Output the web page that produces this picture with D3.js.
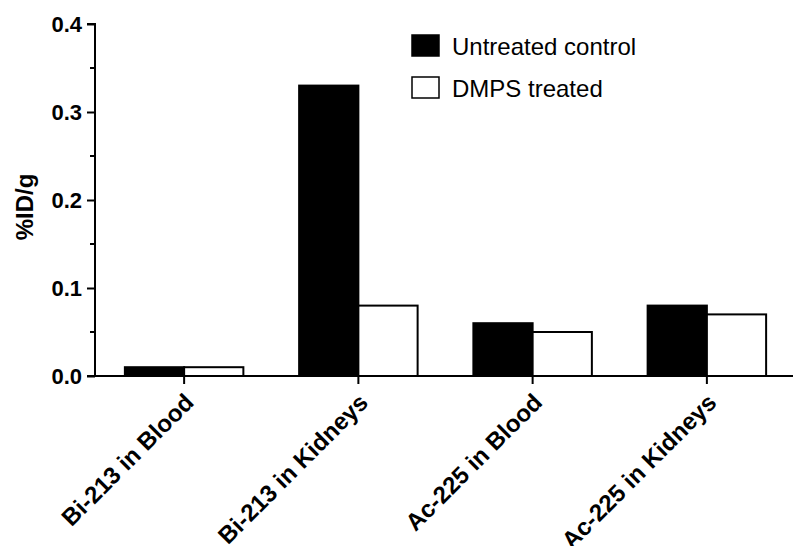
<!DOCTYPE html>
<html>
<head>
<meta charset="utf-8">
<script src="https://cdn.jsdelivr.net/npm/d3@7"></script>
<style>
  body { margin: 0; background: #fff; }
  svg { display: block; font-family: "Liberation Sans", Arial, sans-serif; }
</style>
</head>
<body>
<svg id="chart"></svg>
<script>
// data
var categories = ["Bi-213 in Blood", "Bi-213 in Kidneys", "Ac-225 in Blood", "Ac-225 in Kidneys"];
var seriesNames = ["Untreated control", "DMPS treated"];
var untreated = [0.01, 0.33, 0.06, 0.08];
var dmps = [0.01, 0.08, 0.05, 0.07];
var yTicks = [0.0, 0.1, 0.2, 0.3, 0.4];
var yMinorTicks = [0.05, 0.15, 0.25, 0.35];

var width = 793,
    height = 546;

var plotLeft = 95, plotRight = 793, plotTop = 24, plotBottom = 376;

var svg = d3.select("#chart")
    .attr("width", width)
    .attr("height", height);

var x0 = d3.scaleBand()
    .domain(categories)
    .range([plotLeft + 2, plotRight + 1])
    .paddingInner(0.32)
    .paddingOuter(0.16);

var x1 = d3.scaleBand()
    .domain(seriesNames)
    .range([0, x0.bandwidth()]);

var y = d3.scaleLinear()
    .domain([0, 0.4])
    .range([plotBottom, plotTop]);

var fills = ["#000", "#fff"];
var values = [untreated, dmps];

// bars
var groups = svg.append("g").selectAll("g")
    .data(categories)
    .enter().append("g")
    .attr("transform", function(d) { return "translate(" + x0(d) + ",0)"; });

groups.selectAll("rect")
    .data(function(d, i) { return seriesNames.map(function(s, j) { return {s: s, v: values[j][i], j: j}; }); })
    .enter().append("rect")
    .attr("x", function(d) { return x1(d.s); })
    .attr("width", x1.bandwidth())
    .attr("y", function(d) { return y(d.v); })
    .attr("height", function(d) { return plotBottom - y(d.v); })
    .attr("fill", function(d) { return fills[d.j]; })
    .attr("stroke", "#000")
    .attr("stroke-width", 2);

// y axis
var yAxis = d3.axisLeft(y)
    .tickValues(yTicks)
    .tickFormat(d3.format(".1f"))
    .tickSize(8)
    .tickPadding(5);

var gy = svg.append("g")
    .attr("transform", "translate(" + plotLeft + ",0)")
    .call(yAxis);
gy.select(".domain").attr("stroke-width", 2).attr("d", "M-8," + plotTop + "H0V" + plotBottom);
gy.selectAll(".tick line").attr("stroke-width", 2);
gy.selectAll(".tick text")
    .attr("font-size", 22)
    .attr("font-weight", "bold")
    .attr("fill", "#000");

gy.selectAll(".minor")
    .data(yMinorTicks)
    .enter().append("line")
    .attr("class", "minor")
    .attr("x1", -5).attr("x2", 0)
    .attr("y1", function(d) { return y(d); })
    .attr("y2", function(d) { return y(d); })
    .attr("stroke", "#000")
    .attr("stroke-width", 2);

// x axis
var xAxis = d3.axisBottom(x0)
    .tickSize(8)
    .tickFormat("");

var gx = svg.append("g")
    .attr("transform", "translate(0," + plotBottom + ")")
    .call(xAxis);
gx.select(".domain").attr("stroke-width", 2).attr("d", "M" + (plotLeft - 8) + ",0H" + plotRight);
gx.selectAll(".tick line").attr("stroke-width", 2);

svg.append("g").selectAll("text")
    .data(categories)
    .enter().append("text")
    .attr("transform", function(d) {
        return "translate(" + (x0(d) + x0.bandwidth() / 2 + 11) + "," + 404 + ") rotate(-45)";
    })
    .attr("text-anchor", "end")
    .attr("font-size", 24)
    .attr("font-weight", "bold")
    .text(function(d) { return d; });

// y title
svg.append("text")
    .attr("transform", "translate(33,207) rotate(-90)")
    .attr("text-anchor", "middle")
    .attr("font-size", 24)
    .attr("font-weight", "bold")
    .text("%ID/g");

// legend
var legend = svg.append("g").selectAll("g")
    .data(seriesNames)
    .enter().append("g")
    .attr("transform", function(d, i) { return "translate(412," + (35 + i * 42) + ")"; });

legend.append("rect")
    .attr("width", 27)
    .attr("height", 21)
    .attr("fill", function(d, i) { return fills[i]; })
    .attr("stroke", "#000")
    .attr("stroke-width", 1.5);

legend.append("text")
    .attr("x", 40)
    .attr("y", 20)
    .attr("font-size", 24)
    .text(function(d) { return d; });
</script>
</body>
</html>
